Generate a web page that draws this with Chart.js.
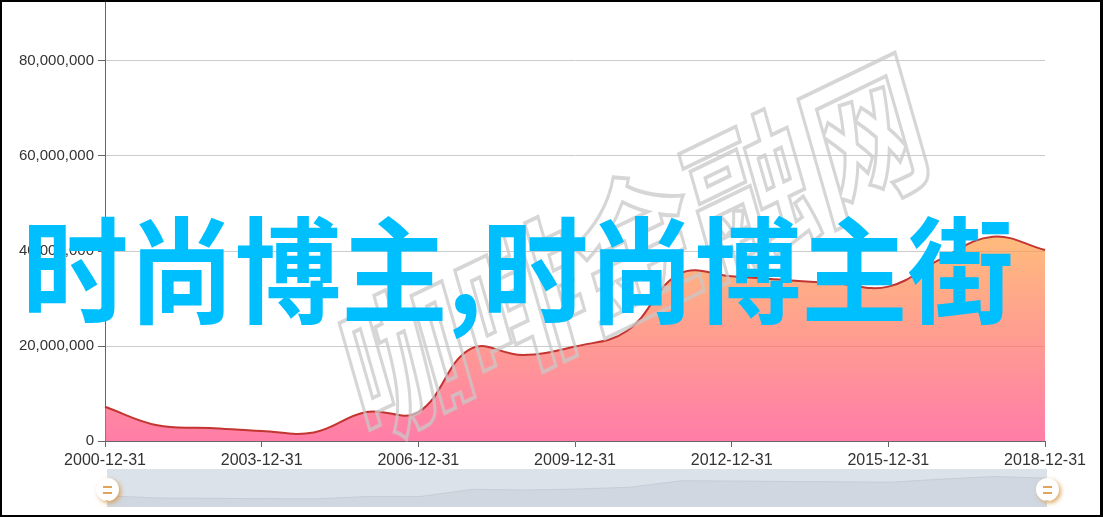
<!DOCTYPE html>
<html>
<head>
<meta charset="utf-8">
<script src="https://cdn.jsdelivr.net/npm/chart.js@4/dist/chart.umd.min.js"></script>
<style>
  html, body { margin: 0; padding: 0; background: #fff; }
  #wrap { position: relative; width: 1103px; height: 517px; overflow: hidden; background: #fff; }
  #main { position: absolute; left: 0; top: 0; }
  #zoomBox { position: absolute; left: 107px; top: 469px; width: 940px; height: 38px; }
  .handle {
    position: absolute; width: 23px; height: 23px; border-radius: 50%;
    background: #fff; box-shadow: 2px 2px 4px rgba(214,150,70,.8);
  }
  .handle::before {
    content: ""; position: absolute; left: 7px; top: 8px; width: 9px; height: 4px;
    border-top: 2px solid #e2a45a; border-bottom: 2px solid #e2a45a;
  }
  .handle::after {
    content: ""; position: absolute; left: 9px; top: 22px; width: 0; height: 0;
    border-left: 2px solid transparent; border-right: 2px solid transparent; border-top: 3px solid #e8c9a0;
  }
  #mark {
    position: absolute; left: 633px; top: 240px; white-space: nowrap;
    font-family: "Noto Sans CJK SC", sans-serif; font-weight: 700; font-size: 122px; line-height: 1;
    color: transparent; -webkit-text-stroke: 3px rgba(200,200,200,.75);
    transform: translate(-50%, -50%) scale(1, 1.3) rotate(-20.4deg);
  }
  #title {
    position: absolute; left: 22px; top: 207px; white-space: nowrap;
    font-family: "Noto Sans CJK SC", sans-serif; font-weight: 700; font-size: 115px; line-height: 1;
    color: #00bfff; transform-origin: 0 0; transform: scaleX(0.925);
  }
  #frame {
    position: absolute; left: 0; top: 0; width: 1103px; height: 517px; box-sizing: border-box;
    border-style: solid; border-color: #000; border-width: 2px 3px 2px 2px; pointer-events: none;
  }
</style>
</head>
<body>
<div id="wrap">
  <canvas id="main" width="1103" height="517"></canvas>
  <div id="zoomBox"><canvas id="zoomChart"></canvas></div>
  <div class="handle" style="left:96px;top:478px"></div>
  <div class="handle" style="left:1036px;top:478px"></div>
  <div id="mark">咖啡金融网</div>
  <div id="title">时尚博主,时尚博主街</div>
  <div id="frame"></div>
</div>
<script>
// ==============================
// DADOS
// ==============================
const datas = [
  "2000-12-31","2001-12-31","2002-12-31","2003-12-31","2004-12-31","2005-12-31","2006-12-31",
  "2007-12-31","2008-12-31","2009-12-31","2010-12-31","2011-12-31","2012-12-31","2013-12-31",
  "2014-12-31","2015-12-31","2016-12-31","2017-12-31","2018-12-31"
];
const valores = [
  7200000, 3300000, 2750000, 2100000, 1800000, 6100000, 6100000,
  19400000, 18100000, 19900000, 23200000, 35200000, 34700000, 33900000,
  33200000, 32500000, 38300000, 43000000, 40200000
];
const ticksY = [0, 20000000, 40000000, 60000000, 80000000];

const $ = (id) => document.getElementById(id);

function fmt(v){
  return Number(v).toLocaleString("en-US");
}

// ==============================
// GRAFICO PRINCIPAL
// ==============================
function gradiente(ctx){
  const chart = ctx.chart;
  const area = chart.chartArea;
  if (!area) return "rgba(255,120,120,.7)";
  const topo = chart.scales.y.getPixelForValue(Math.max(...valores));
  const g = chart.ctx.createLinearGradient(0, topo, 0, area.bottom);
  g.addColorStop(0, "rgba(255,158,68,.7)");
  g.addColorStop(1, "rgba(255,70,131,.7)");
  return g;
}

new Chart($("main"), {
  type: "line",
  data: {
    labels: datas,
    datasets: [{
      data: valores,
      borderColor: "#c23531",
      borderWidth: 2,
      backgroundColor: gradiente,
      fill: "origin",
      tension: 0.4,
      pointRadius: 0
    }]
  },
  options: {
    responsive: false,
    animation: false,
    devicePixelRatio: 1,
    layout: { padding: { left: 0, top: 0, right: 58, bottom: 46 } },
    plugins: { legend: { display: false }, tooltip: { enabled: false } },
    scales: {
      x: {
        offset: false,
        afterFit: (s) => { s.height = 30; },
        border: { color: "#666", width: 1 },
        grid: { drawOnChartArea: false, tickLength: 6, tickColor: "#666" },
        ticks: {
          autoSkip: false, maxRotation: 0, padding: 4, color: "#333",
          font: { family: "Liberation Sans, Arial", size: 16 },
          callback: (v, i) => i % 3 === 0 ? datas[i] : null
        }
      },
      y: {
        min: 0,
        max: 80000000 * 441 / 380,
        afterFit: (s) => { s.width = 105; s.paddingTop = 0; s.paddingBottom = 0; },
        afterBuildTicks: (s) => { s.ticks = ticksY.map(v => ({ value: v })); },
        border: { color: "#666", width: 1 },
        grid: {
          color: (c) => c.tick && c.tick.value === 0 ? "rgba(0,0,0,0)" : "#ccc",
          tickLength: 7, tickColor: "#666"
        },
        ticks: {
          padding: 4, color: "#333",
          font: { family: "Liberation Sans, Arial", size: 15 },
          callback: (v) => fmt(v)
        }
      }
    }
  }
});

// ==============================
// SLIDER (dataZoom)
// ==============================
const fundoSlider = {
  id: "fundoSlider",
  beforeDraw(chart){
    const c = chart.ctx;
    c.save();
    c.fillStyle = "#dce2ea";
    c.fillRect(0, 0, chart.width, chart.height);
    c.restore();
  }
};

new Chart($("zoomChart"), {
  type: "line",
  data: {
    labels: datas,
    datasets: [{
      data: valores,
      borderColor: "#c6cdd7",
      borderWidth: 1,
      backgroundColor: "#d0d7e0",
      fill: "start",
      tension: 0,
      pointRadius: 0
    }]
  },
  options: {
    responsive: true,
    maintainAspectRatio: false,
    animation: false,
    devicePixelRatio: 1,
    layout: { padding: 0 },
    plugins: { legend: { display: false }, tooltip: { enabled: false } },
    scales: {
      x: { display: false, offset: false },
      y: { display: false, min: -13300000, max: 57000000 }
    }
  },
  plugins: [fundoSlider]
});
</script>
</body>
</html>
